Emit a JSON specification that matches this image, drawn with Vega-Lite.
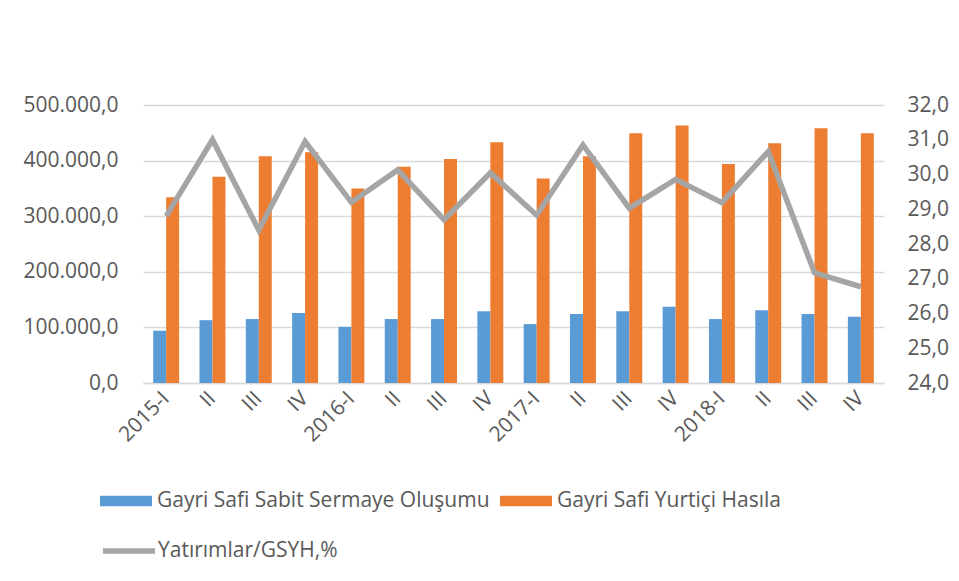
{
  "$schema": "https://vega.github.io/schema/vega-lite/v6.json",
  "autosize": {"type": "none"},
  "width": 741,
  "height": 278,
  "padding": {"left": 143, "top": 105, "right": 75, "bottom": 198},
  "background": "white",
  "config": {
    "locale": {"number": {"decimal": ",", "thousands": ".", "grouping": [3], "currency": ["", " ₺"]}},
    "view": {"stroke": null},
    "font": "Open Sans",
    "axis": {"labelFont": "Open Sans", "labelFontSize": 21, "labelColor": "#595959", "titleFont": "Open Sans"},
    "legend": {"labelFont": "Open Sans", "labelFontSize": 21, "labelColor": "#595959", "padding": 0}
  },
  "datasets": {
    "bars": [
      {"q": "2015-I", "series": "Gayri Safi Sabit Sermaye Oluşumu", "value": 94000},
      {"q": "2015-II", "series": "Gayri Safi Sabit Sermaye Oluşumu", "value": 113000},
      {"q": "2015-III", "series": "Gayri Safi Sabit Sermaye Oluşumu", "value": 115000},
      {"q": "2015-IV", "series": "Gayri Safi Sabit Sermaye Oluşumu", "value": 126000},
      {"q": "2016-I", "series": "Gayri Safi Sabit Sermaye Oluşumu", "value": 101000},
      {"q": "2016-II", "series": "Gayri Safi Sabit Sermaye Oluşumu", "value": 115000},
      {"q": "2016-III", "series": "Gayri Safi Sabit Sermaye Oluşumu", "value": 115000},
      {"q": "2016-IV", "series": "Gayri Safi Sabit Sermaye Oluşumu", "value": 129000},
      {"q": "2017-I", "series": "Gayri Safi Sabit Sermaye Oluşumu", "value": 106000},
      {"q": "2017-II", "series": "Gayri Safi Sabit Sermaye Oluşumu", "value": 124000},
      {"q": "2017-III", "series": "Gayri Safi Sabit Sermaye Oluşumu", "value": 129000},
      {"q": "2017-IV", "series": "Gayri Safi Sabit Sermaye Oluşumu", "value": 137000},
      {"q": "2018-I", "series": "Gayri Safi Sabit Sermaye Oluşumu", "value": 115000},
      {"q": "2018-II", "series": "Gayri Safi Sabit Sermaye Oluşumu", "value": 131000},
      {"q": "2018-III", "series": "Gayri Safi Sabit Sermaye Oluşumu", "value": 124000},
      {"q": "2018-IV", "series": "Gayri Safi Sabit Sermaye Oluşumu", "value": 119000},
      {"q": "2015-I", "series": "Gayri Safi Yurtiçi Hasıla", "value": 334000},
      {"q": "2015-II", "series": "Gayri Safi Yurtiçi Hasıla", "value": 371000},
      {"q": "2015-III", "series": "Gayri Safi Yurtiçi Hasıla", "value": 408000},
      {"q": "2015-IV", "series": "Gayri Safi Yurtiçi Hasıla", "value": 415000},
      {"q": "2016-I", "series": "Gayri Safi Yurtiçi Hasıla", "value": 350000},
      {"q": "2016-II", "series": "Gayri Safi Yurtiçi Hasıla", "value": 389000},
      {"q": "2016-III", "series": "Gayri Safi Yurtiçi Hasıla", "value": 403000},
      {"q": "2016-IV", "series": "Gayri Safi Yurtiçi Hasıla", "value": 433000},
      {"q": "2017-I", "series": "Gayri Safi Yurtiçi Hasıla", "value": 368000},
      {"q": "2017-II", "series": "Gayri Safi Yurtiçi Hasıla", "value": 408000},
      {"q": "2017-III", "series": "Gayri Safi Yurtiçi Hasıla", "value": 449000},
      {"q": "2017-IV", "series": "Gayri Safi Yurtiçi Hasıla", "value": 463000},
      {"q": "2018-I", "series": "Gayri Safi Yurtiçi Hasıla", "value": 394000},
      {"q": "2018-II", "series": "Gayri Safi Yurtiçi Hasıla", "value": 431000},
      {"q": "2018-III", "series": "Gayri Safi Yurtiçi Hasıla", "value": 458000},
      {"q": "2018-IV", "series": "Gayri Safi Yurtiçi Hasıla", "value": 449000}
    ],
    "ratio": [
      {"q": "2015-I", "ratio": 28.8},
      {"q": "2015-II", "ratio": 31.0},
      {"q": "2015-III", "ratio": 28.4},
      {"q": "2015-IV", "ratio": 30.95},
      {"q": "2016-I", "ratio": 29.2},
      {"q": "2016-II", "ratio": 30.13},
      {"q": "2016-III", "ratio": 28.7},
      {"q": "2016-IV", "ratio": 30.05},
      {"q": "2017-I", "ratio": 28.83},
      {"q": "2017-II", "ratio": 30.85},
      {"q": "2017-III", "ratio": 29.03},
      {"q": "2017-IV", "ratio": 29.86},
      {"q": "2018-I", "ratio": 29.19},
      {"q": "2018-II", "ratio": 30.66},
      {"q": "2018-III", "ratio": 27.17},
      {"q": "2018-IV", "ratio": 26.77}
    ]
  },
  "layer": [
    {
      "data": {"name": "bars"},
      "mark": {"type": "bar"},
      "encoding": {
        "x": {
          "field": "q", "type": "nominal", "sort": null, "title": null,
          "scale": {"paddingInner": 0.44, "paddingOuter": 0.22},
          "axis": {
            "labelAngle": -45, "labelAlign": "right", "labelBaseline": "middle",
            "labelPadding": 12, "ticks": false, "domainColor": "#D9D9D9", "domainWidth": 1.5,
            "labelExpr": "slice(datum.label, 5) == 'I' ? datum.label : slice(datum.label, 5)"
          }
        },
        "xOffset": {
          "field": "series", "type": "nominal",
          "scale": {"domain": ["Gayri Safi Sabit Sermaye Oluşumu", "Gayri Safi Yurtiçi Hasıla"], "paddingInner": 0, "paddingOuter": 0}
        },
        "y": {
          "field": "value", "type": "quantitative", "title": null,
          "scale": {"domain": [0, 500000], "nice": false},
          "axis": {
            "values": [0, 100000, 200000, 300000, 400000, 500000], "format": ",.1f",
            "domain": false, "ticks": false, "labelPadding": 25,
            "gridColor": "#D9D9D9", "gridWidth": 1.5
          }
        },
        "color": {
          "field": "series", "type": "nominal",
          "scale": {"domain": ["Gayri Safi Sabit Sermaye Oluşumu", "Gayri Safi Yurtiçi Hasıla"], "range": ["#5B9BD5", "#ED7D31"]},
          "legend": {
            "title": null, "orient": "none", "legendX": -43, "legendY": 370,
            "direction": "horizontal", "columnPadding": 10,
            "symbolType": "M-1,-0.2H1V0.2H-1Z", "symbolSize": 2704, "symbolStrokeWidth": 0,
            "labelOffset": 5, "labelLimit": 400
          }
        }
      }
    },
    {
      "data": {"name": "ratio"},
      "mark": {"type": "line", "strokeWidth": 5.5},
      "encoding": {
        "x": {"field": "q", "type": "nominal", "sort": null},
        "y": {
          "field": "ratio", "type": "quantitative", "title": null,
          "scale": {"domain": [24, 32], "nice": false, "zero": false},
          "axis": {
            "orient": "right", "values": [24, 25, 26, 27, 28, 29, 30, 31, 32], "format": ".1f",
            "domain": false, "ticks": false, "grid": false, "labelPadding": 23
          }
        },
        "stroke": {
          "datum": "Yatırımlar/GSYH,%", "type": "nominal",
          "scale": {"range": ["#A5A5A5"]},
          "legend": {
            "title": null, "orient": "none", "legendX": -43, "legendY": 417,
            "symbolType": "stroke", "symbolSize": 2704, "symbolStrokeWidth": 5.5,
            "labelOffset": 0, "labelLimit": 400
          }
        }
      }
    }
  ],
  "resolve": {"scale": {"y": "independent"}}
}
